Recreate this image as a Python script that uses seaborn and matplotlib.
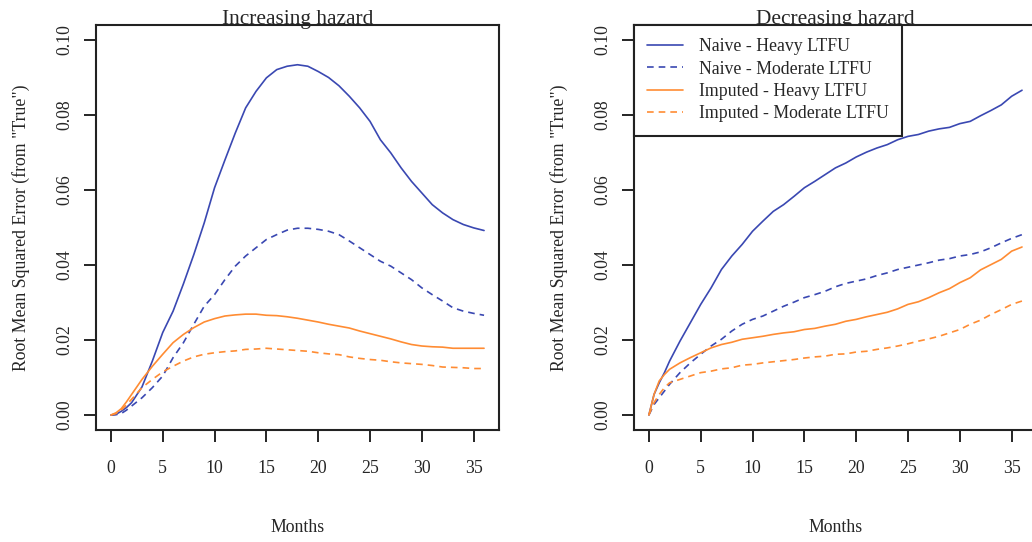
import numpy as np
import pandas as pd
import matplotlib
matplotlib.use("Agg")
import matplotlib.pyplot as plt
import seaborn as sns
from matplotlib.lines import Line2D

# Months at which the curves are read
months = [0, 0.5, 1, 1.5, 2, 3, 4, 5, 6, 7, 8, 9, 10, 11, 12, 13, 14, 15, 16, 17, 18,
          19, 20, 21, 22, 23, 24, 25, 26, 27, 28, 29, 30, 31, 32, 33, 34, 35, 36]

series_names = ["Naive - Heavy LTFU", "Naive - Moderate LTFU",
                "Imputed - Heavy LTFU", "Imputed - Moderate LTFU"]
panel_titles = ["Increasing hazard", "Decreasing hazard"]

# Increasing hazard
inc_naive_heavy = [0, 0.0002, 0.001, 0.002, 0.0033, 0.0075, 0.0144, 0.022, 0.0277, 0.035,
                   0.0428, 0.0512, 0.0606, 0.068, 0.0752, 0.0819, 0.0863, 0.0899, 0.0921,
                   0.093, 0.0934, 0.093, 0.0916, 0.090, 0.0878, 0.085, 0.0819, 0.0783,
                   0.0734, 0.0699, 0.0659, 0.0623, 0.0592, 0.0561, 0.0539, 0.0521, 0.0508,
                   0.0499, 0.0492]
inc_naive_mod = [0, 0.0001, 0.0004, 0.0013, 0.0024, 0.0046, 0.0073, 0.0104, 0.0153, 0.0193,
                 0.0242, 0.029, 0.0321, 0.0361, 0.0397, 0.0424, 0.0446, 0.0468, 0.0481,
                 0.0493, 0.0498, 0.0498, 0.0495, 0.049, 0.0481, 0.0464, 0.0446, 0.0428,
                 0.041, 0.0397, 0.0379, 0.0361, 0.0339, 0.0321, 0.0304, 0.0286, 0.0277,
                 0.0271, 0.0266]
inc_imp_heavy = [0, 0.0006, 0.0017, 0.0035, 0.0055, 0.0095, 0.013, 0.0162, 0.0193, 0.0215,
                 0.0233, 0.0248, 0.0257, 0.0264, 0.0267, 0.0269, 0.0269, 0.0266, 0.0265,
                 0.0262, 0.0258, 0.0253, 0.0248, 0.0242, 0.0237, 0.0232, 0.0224, 0.0217,
                 0.021, 0.0203, 0.0195, 0.0188, 0.0184, 0.0182, 0.0181, 0.0178, 0.0178,
                 0.0178, 0.0178]
inc_imp_mod = [0, 0.0004, 0.0013, 0.0027, 0.0042, 0.0073, 0.0095, 0.0115, 0.013, 0.0144,
               0.0155, 0.0162, 0.0166, 0.0169, 0.0171, 0.0175, 0.0176, 0.0178, 0.0176,
               0.0174, 0.0172, 0.017, 0.0166, 0.0163, 0.0161, 0.0155, 0.0151, 0.0148,
               0.0146, 0.0142, 0.0139, 0.0137, 0.0135, 0.0132, 0.0128, 0.0127, 0.0126,
               0.0124, 0.0124]

# Decreasing hazard
dec_naive_heavy = [0, 0.0055, 0.0086, 0.0113, 0.0144, 0.0197, 0.0246, 0.0295, 0.0339, 0.0388,
                   0.0424, 0.0455, 0.049, 0.0517, 0.0543, 0.0561, 0.0583, 0.0606, 0.0623,
                   0.0641, 0.0659, 0.0672, 0.0688, 0.0701, 0.0712, 0.0721, 0.0734, 0.0743,
                   0.0748, 0.0757, 0.0763, 0.0767, 0.0777, 0.0783, 0.0798, 0.0812, 0.0827,
                   0.085, 0.0866]
dec_naive_mod = [0, 0.0028, 0.0046, 0.0064, 0.0082, 0.0113, 0.0139, 0.0162, 0.0184, 0.0202,
                 0.0224, 0.0242, 0.0255, 0.0264, 0.0277, 0.029, 0.0301, 0.0313, 0.0321,
                 0.033, 0.0342, 0.0351, 0.0357, 0.0363, 0.0372, 0.0379, 0.0388, 0.0394,
                 0.04, 0.0406, 0.0413, 0.0417, 0.0424, 0.0428, 0.0435, 0.0446, 0.0459,
                 0.0471, 0.0481]
dec_imp_heavy = [0, 0.0055, 0.0091, 0.0108, 0.0122, 0.0139, 0.0153, 0.0166, 0.0179, 0.0188,
                 0.0194, 0.0202, 0.0206, 0.021, 0.0215, 0.0219, 0.0222, 0.0228, 0.0231,
                 0.0237, 0.0242, 0.025, 0.0255, 0.0262, 0.0268, 0.0274, 0.0283, 0.0295,
                 0.0302, 0.0313, 0.0326, 0.0337, 0.0353, 0.0366, 0.0387, 0.0401, 0.0415,
                 0.0437, 0.0448]
dec_imp_mod = [0, 0.0033, 0.0055, 0.0073, 0.0086, 0.0095, 0.0104, 0.0113, 0.0117, 0.0123,
               0.0126, 0.0133, 0.0135, 0.0139, 0.0142, 0.0145, 0.0148, 0.0152, 0.0155,
               0.0157, 0.0162, 0.0163, 0.0168, 0.017, 0.0175, 0.0179, 0.0184, 0.019,
               0.0197, 0.0203, 0.021, 0.0219, 0.0228, 0.0242, 0.0253, 0.0268, 0.0281,
               0.0295, 0.0304]

x_ticks = [0, 5, 10, 15, 20, 25, 30, 35]
y_ticks = [0.00, 0.02, 0.04, 0.06, 0.08, 0.10]

# table long pour seaborn
rows = []
panels = [[inc_naive_heavy, inc_naive_mod, inc_imp_heavy, inc_imp_mod],
          [dec_naive_heavy, dec_naive_mod, dec_imp_heavy, dec_imp_mod]]
for title, vals in zip(panel_titles, panels):
    for name, v in zip(series_names, vals):
        for m, r in zip(months, v):
            rows.append((title, name, m, r))
df = pd.DataFrame(rows, columns=["panel", "series", "month", "rmse"])

sns.set_style("white")
plt.rcParams["font.family"] = ["Liberation Serif", "DejaVu Serif"]
fs = 12.8

blue = "#3A48B2"
orange = "#FF8C33"
palette = {series_names[0]: blue, series_names[1]: blue,
           series_names[2]: orange, series_names[3]: orange}
dashes = {series_names[0]: "", series_names[1]: (4, 3),
          series_names[2]: "", series_names[3]: (4, 3)}

fig = plt.figure(figsize=(10.32, 5.42), dpi=100)
ax1 = fig.add_axes([0.093, 0.2066, 0.3905, 0.7473])
ax2 = fig.add_axes([0.6143, 0.2066, 0.3905, 0.7473])

for ax, title in zip([ax1, ax2], panel_titles):
    sub = df[df["panel"] == title]
    sns.lineplot(data=sub, x="month", y="rmse", hue="series", style="series",
                 palette=palette, dashes=dashes, errorbar=None, linewidth=1.2,
                 ax=ax, legend=False)
    ax.set_xlim(-1.44, 37.44)
    ax.set_ylim(-0.004, 0.104)
    ax.set_xticks(x_ticks)
    ax.set_yticks(y_ticks)
    ax.set_xticklabels([str(t) for t in x_ticks])
    ax.set_yticklabels(["%.2f" % t for t in y_ticks], rotation=90, va="center")
    ax.tick_params(axis="both", direction="out", length=8.5, width=1.2, color="black",
                   labelsize=fs, bottom=True, left=True)
    ax.tick_params(axis="x", pad=13)
    ax.tick_params(axis="y", pad=8)
    for s in ax.spines.values():
        s.set_color("#222222")
        s.set_linewidth(1.5)
    ax.set_title(title, fontsize=fs * 1.2, pad=1)
    ax.set_xlabel("Months", fontsize=fs, labelpad=30)
    ax.set_ylabel('Root Mean Squared Error (from "True")', fontsize=fs, labelpad=19)

# Légende
handles = [Line2D([], [], color=palette[n], linewidth=1.2,
                  linestyle="-" if dashes[n] == "" else (0, dashes[n]))
           for n in series_names]
leg = ax2.legend(handles, series_names, loc="upper left", borderaxespad=0,
                 fancybox=False, framealpha=1, edgecolor="#222222",
                 handlelength=2.0, handletextpad=0.9, labelspacing=0.3,
                 borderpad=0.75, fontsize=fs)
leg.get_frame().set_linewidth(1.5)

fig.savefig("out.png", dpi=100)
